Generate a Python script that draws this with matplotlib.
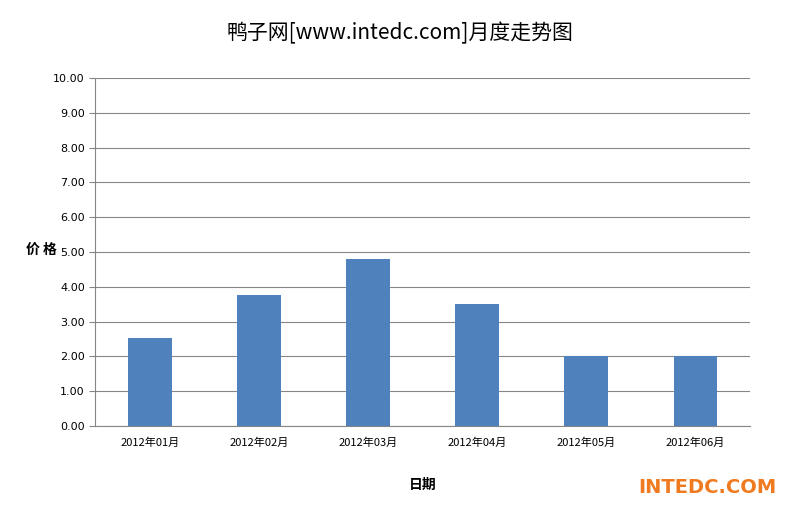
import matplotlib
matplotlib.use("Agg")
import matplotlib.pyplot as plt

plt.rcParams['font.family'] = ['Noto Sans CJK SC', 'DejaVu Sans']

categories = ["2012年01月", "2012年02月", "2012年03月", "2012年04月", "2012年05月", "2012年06月"]
values = [2.52, 3.75, 4.80, 3.50, 2.00, 2.00]
yticks = [0, 1, 2, 3, 4, 5, 6, 7, 8, 9, 10]

fig = plt.figure(figsize=(8.0, 5.08), dpi=100)
ax = fig.add_axes([0.119, 0.1614, 0.8185, 0.6851])
x = range(len(categories))
ax.bar(x, values, width=0.4, color="#4F81BD", zorder=3)
ax.set_xlim(-0.5, len(categories) - 0.5)
ax.set_ylim(0, 10)
ax.set_yticks(yticks)
ax.set_yticklabels([f"{v:.2f}" for v in yticks], fontsize=8, family="DejaVu Sans")
ax.set_xticks(list(x))
ax.set_xticklabels(categories, fontsize=8)
ax.grid(axis="y", color="#868686", linewidth=0.8, zorder=0)
for s in ["top", "right"]:
    ax.spines[s].set_visible(False)
for s in ["left", "bottom"]:
    ax.spines[s].set_color("#868686")
ax.tick_params(axis="both", length=4, color="#868686")
ax.tick_params(axis="x", length=0, pad=8)
ax.set_xlabel("日期", fontsize=10, fontweight="bold", labelpad=22)
fig.text(0.052, 0.508, "价 格", ha="center", va="center", fontsize=10, fontweight="bold")
fig.text(0.5, 0.935, "鸭子网[www.intedc.com]月度走势图", ha="center", va="center", fontsize=15)
fig.text(0.97, 0.04, "INTEDC.COM", ha="right", va="center", fontsize=14, fontweight="bold", color="#F07A20", family="DejaVu Sans")
fig.savefig("out.png", dpi=100)
